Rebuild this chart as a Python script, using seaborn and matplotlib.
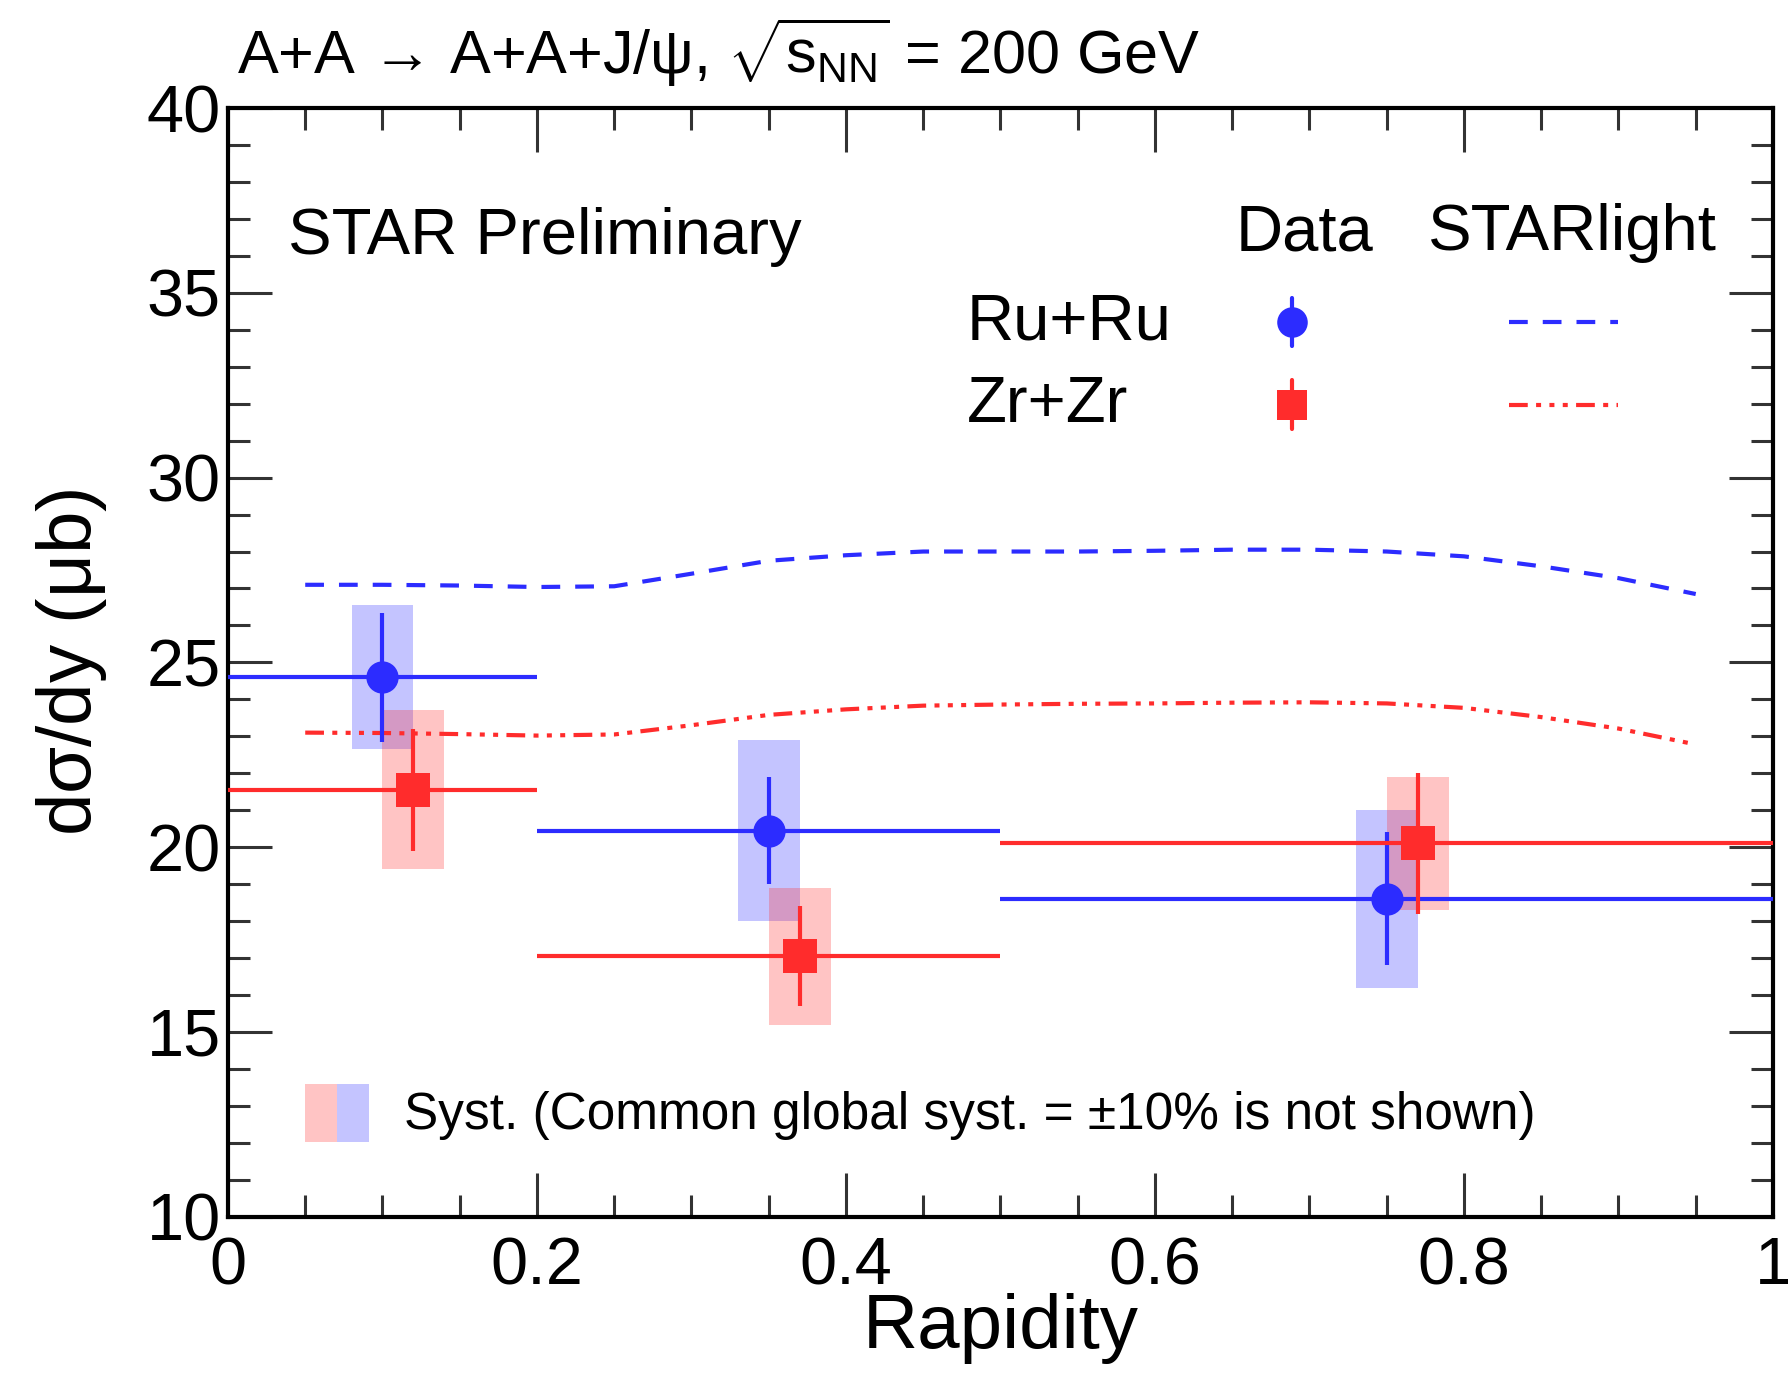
import numpy as np
import pandas as pd
import matplotlib
matplotlib.use("Agg")
import matplotlib.pyplot as plt
from matplotlib.patches import Rectangle
from matplotlib.lines import Line2D
import seaborn as sns

# ---------------- data ----------------
ru_x = [0.10, 0.35, 0.75]
ru_y = [24.6, 20.45, 18.6]
ru_xlo = [0.0, 0.2, 0.5]
ru_xhi = [0.2, 0.5, 1.0]
ru_stat = [1.75, 1.45, 1.8]
ru_syst = [1.95, 2.45, 2.4]

zr_x = [0.12, 0.37, 0.77]
zr_y = [21.55, 17.05, 20.1]
zr_xlo = [0.0, 0.2, 0.5]
zr_xhi = [0.2, 0.5, 1.0]
zr_stat = [1.65, 1.35, 1.9]
zr_syst = [2.15, 1.85, 1.8]

sl_x = [0.05, 0.10, 0.15, 0.20, 0.25, 0.30, 0.35, 0.40, 0.45, 0.50,
        0.55, 0.60, 0.65, 0.70, 0.75, 0.80, 0.85, 0.90, 0.95]
sl_ru = [27.1, 27.1, 27.08, 27.04, 27.06, 27.4, 27.75, 27.9, 28.0, 28.0,
         28.0, 28.02, 28.05, 28.05, 28.0, 27.87, 27.6, 27.28, 26.85]
sl_zr = [23.1, 23.09, 23.06, 23.02, 23.05, 23.3, 23.58, 23.73, 23.83, 23.86,
         23.88, 23.89, 23.91, 23.92, 23.89, 23.77, 23.52, 23.21, 22.78]

x_ticks = [0, 0.2, 0.4, 0.6, 0.8, 1]
x_ticklabels = ["0", "0.2", "0.4", "0.6", "0.8", "1"]
y_ticks = [10, 15, 20, 25, 30, 35, 40]

BLUE = "#2c2cff"
RED = "#ff2c2c"
DASH_RU = [4.5, 3.6]
DASH_ZR = [4.5, 2.0, 1.2, 2.0, 1.2, 2.0, 1.2, 2.0]
LW = 3.0

sns.set_theme(style="ticks")
plt.rcParams["font.family"] = ["Liberation Sans", "DejaVu Sans"]
plt.rcParams["mathtext.fontset"] = "custom"
plt.rcParams["mathtext.rm"] = "Liberation Sans"
plt.rcParams["mathtext.it"] = "Liberation Sans"
plt.rcParams["text.color"] = "black"
plt.rcParams["axes.labelcolor"] = "black"

fig = plt.figure(figsize=(17.88, 13.78), dpi=100)
ax = fig.add_axes([0.1275, 0.1170, 0.8641, 0.8046])

# syst boxes
def syst_boxes(xs, ys, ss, color):
    for x, y, s in zip(xs, ys, ss):
        ax.add_patch(Rectangle((x - 0.02, y - s), 0.04, 2 * s,
                               facecolor=color, alpha=0.28, edgecolor="none", zorder=1))

syst_boxes(ru_x, ru_y, ru_syst, BLUE)
syst_boxes(zr_x, zr_y, zr_syst, RED)

# STARlight curves
df_ru = pd.DataFrame({"y": sl_x, "v": sl_ru})
df_zr = pd.DataFrame({"y": sl_x, "v": sl_zr})
sns.lineplot(data=df_ru, x="y", y="v", ax=ax, color=BLUE, lw=LW, zorder=2)
sns.lineplot(data=df_zr, x="y", y="v", ax=ax, color=RED, lw=LW, zorder=2)
ax.lines[0].set_dashes(DASH_RU)
ax.lines[1].set_dashes(DASH_ZR)

# data points
def data_pts(xs, ys, xlo, xhi, st, color, marker, ms):
    xs = np.array(xs); ys = np.array(ys)
    xerr = [xs - np.array(xlo), np.array(xhi) - xs]
    ax.errorbar(xs, ys, xerr=xerr, yerr=st, fmt="none", ecolor=color,
                elinewidth=LW, capsize=0, zorder=3, clip_on=False)
    sns.scatterplot(x=xs, y=ys, ax=ax, color=color, marker=marker, s=ms,
                    edgecolor=color, linewidth=0, zorder=4)

data_pts(ru_x, ru_y, ru_xlo, ru_xhi, ru_stat, BLUE, "o", 540)
data_pts(zr_x, zr_y, zr_xlo, zr_xhi, zr_stat, RED, "s", 580)

ax.set_xlim(0, 1)
ax.set_ylim(10, 40)
ax.set_xticks(x_ticks)
ax.set_xticklabels(x_ticklabels)
ax.set_yticks(y_ticks)
ax.set_xticks(np.arange(0, 1.0001, 0.05), minor=True)
ax.set_yticks(np.arange(10, 40.001, 1), minor=True)
ax.tick_params(which="both", direction="in", top=True, right=True,
               colors="#333333", labelcolor="black")
ax.tick_params(which="major", length=32, width=2.2, labelsize=48, pad=8)
ax.tick_params(which="minor", length=16, width=2.2)
ax.tick_params(axis="x", which="major", pad=14)
ax.tick_params(axis="y", which="major", pad=5)
for sp in ax.spines.values():
    sp.set_linewidth(3)
    sp.set_color("black")

ax.set_xlabel("Rapidity", fontsize=55, labelpad=-4)
ax.set_ylabel(r"d$\sigma$/dy ($\mu$b)", fontsize=55)
ax.yaxis.set_label_coords(-0.077, 0.5)

fig.text(0.1327, 0.962, r"A+A → A+A+J/ψ, $\sqrt{s_{\rm NN}}$ = 200 GeV",
         fontsize=44, ha="left", va="center")

# texts / legend
FS = 47
ax.text(0.039, 0.884, "STAR Preliminary", transform=ax.transAxes, fontsize=FS,
        ha="left", va="center")
ax.text(0.652, 0.887, "Data", transform=ax.transAxes, fontsize=FS, ha="left", va="center")
ax.text(0.777, 0.887, "STARlight", transform=ax.transAxes, fontsize=FS, ha="left", va="center")
ax.text(0.478, 0.807, "Ru+Ru", transform=ax.transAxes, fontsize=FS, ha="left", va="center")
ax.text(0.478, 0.7325, "Zr+Zr", transform=ax.transAxes, fontsize=FS, ha="left", va="center")

for yy, c, m, ms in [(0.807, BLUE, "o", 22), (0.7325, RED, "s", 22)]:
    ax.add_line(Line2D([0.689, 0.689], [yy - 0.022, yy + 0.022], transform=ax.transAxes,
                       color=c, lw=LW))
    ax.add_line(Line2D([0.689], [yy], transform=ax.transAxes, marker=m, ms=ms,
                       color=c, mec=c, mew=0, ls="none"))
l1 = Line2D([0.829, 0.900], [0.807, 0.807], transform=ax.transAxes, color=BLUE, lw=LW)
l1.set_dashes(DASH_RU)
l2 = Line2D([0.829, 0.900], [0.7325, 0.7325], transform=ax.transAxes, color=RED, lw=LW)
l2.set_dashes(DASH_ZR)
ax.add_line(l1)
ax.add_line(l2)

ax.add_patch(Rectangle((0.050, 0.067), 0.0205, 0.053, transform=ax.transAxes,
                       facecolor=RED, alpha=0.28, edgecolor="none"))
ax.add_patch(Rectangle((0.0705, 0.067), 0.0205, 0.053, transform=ax.transAxes,
                       facecolor=BLUE, alpha=0.28, edgecolor="none"))
ax.text(0.114, 0.0916, "Syst. (Common global syst. = \u00b110% is not shown)",
        transform=ax.transAxes, fontsize=37, ha="left", va="center")

fig.savefig("out.png", dpi=100)
